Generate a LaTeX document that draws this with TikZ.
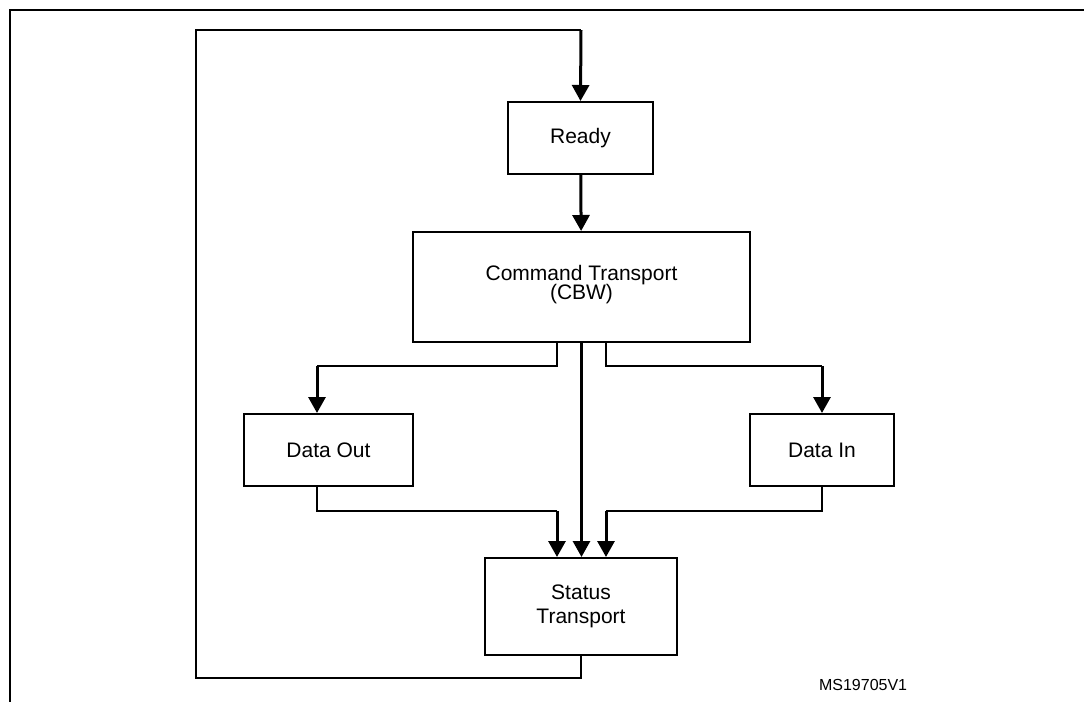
\documentclass[tikz,border=0pt]{standalone}
\usepackage{fontspec}
\setmainfont{Liberation Sans}
\usetikzlibrary{arrows.meta}

\begin{document}
\begin{tikzpicture}[x=0.5pt, y=-0.5pt, font=\fontsize{10.5}{12.5}\selectfont,
    state/.style={draw, line width=1pt, rectangle, align=center, inner sep=0pt},
    wire/.style={line width=0.65pt},
    flow/.style={line width=1.5pt, -{Triangle[width=8.5pt,length=8pt]}}]
  \useasboundingbox (0,0) rectangle (1084,702);
  \draw[line width=1pt] (10,702) -- (10,10) -- (1084,10); % Figure frame

  % States
  \node[state, minimum width=72.5pt, minimum height=36pt] (ready) at (580.5,138) {Ready};
  \node[state, minimum width=168.5pt, minimum height=55pt] (ct) at (581.5,287)
    {Command Transport\\[-3pt](CBW)\\[-8pt]};
  \node[state, minimum width=84.5pt, minimum height=36pt] (dout) at (328.5,450) {Data Out};
  \node[state, minimum width=72pt, minimum height=36pt] (din) at (822,450) {Data In};
  \node[state, minimum width=96pt, minimum height=48.5pt] (stat) at (581,606.5)
    {Status\\[-0.5pt]Transport\\[-10.5pt]};

  % Corner points
  \coordinate (sL) at (317,366);
  \coordinate (sR) at (822,366);
  \coordinate (mL) at (557,511);
  \coordinate (mR) at (606,511);
  \coordinate (lb) at (196,678);
  \coordinate (top) at (581,30);

  \draw[flow] (ready) -- (ct); % CBW follows Ready
  \draw[flow] (ct.south) -- (ct.south |- stat.north); % No data phase

  % Data phases, out on the left and in on the right
  \foreach \S/\M/\B in {sL/mL/dout, sR/mR/din} {
    \draw[wire] (ct.south -| \M) |- (\S);
    \draw[flow] (\S) -- (\S |- \B.north);
    \draw[wire] (\B.south -| \S) |- (\M);
    \draw[flow] (\M) -- (\M |- stat.north);
  }

  % Back to Ready
  \draw[wire] (stat.south) |- (lb) |- (top);
  \draw[flow] (top) -- (ready.north);

  \node[font=\fontsize{8}{9}\selectfont, anchor=west] (ms) at (812,685) {MS19705V1};
\end{tikzpicture}
\end{document}
